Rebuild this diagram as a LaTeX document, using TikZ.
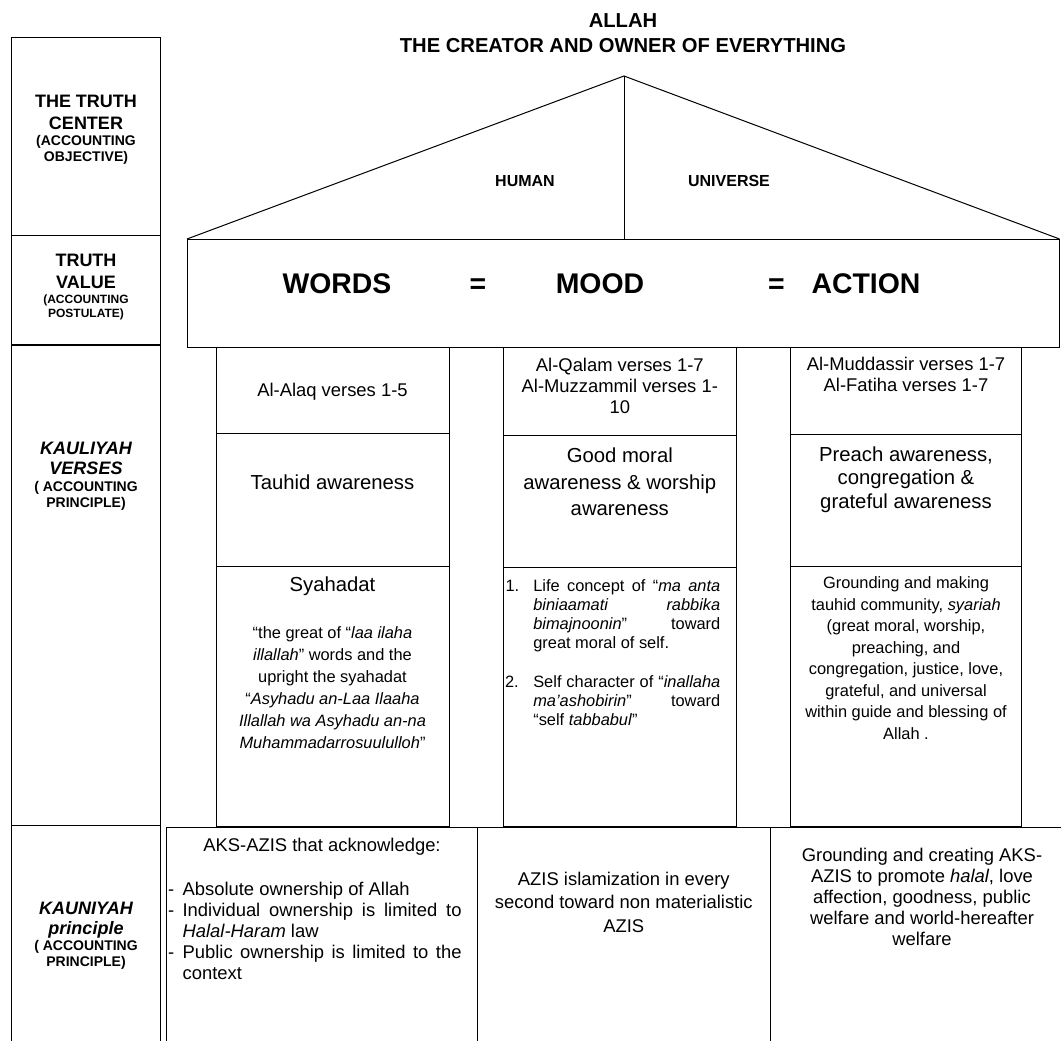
\documentclass[tikz,border=0pt]{standalone}
\usepackage{fontspec}
\setmainfont{Liberation Sans}
\newcommand{\fs}[2]{\fontsize{#1}{#2}\selectfont}
\begin{document}
\begin{tikzpicture}[x=1pt,y=-1pt,line width=1pt,
  every node/.style={inner sep=0pt,outer sep=0pt},
  hd/.style={anchor=north,align=center,font=\bfseries\fs{18}{22}},
  hdit/.style={anchor=north,align=center,font=\bfseries\itshape\fs{18}{20.5}},
  sm/.style={anchor=north,align=center,font=\bfseries\fs{14}{16}},
  big/.style={anchor=base,font=\bfseries\fs{28.4}{34}},
  verse/.style={anchor=north,align=center,font=\fs{18.4}{21.2}},
  aware/.style={anchor=north,align=center,font=\fs{20.3}{#1}},
  body/.style={anchor=north,align=center,font=\fs{16.4}{#1}},
  item/.style={anchor=north west,text width=187pt,align=justify,font=\fs{16.4}{18.9}},
  low/.style={anchor=north,align=center,font=\fs{18.4}{#1}},
  bul/.style={anchor=north west,text height=13.4pt,font=\fs{18.4}{21.1}},
  lowitem/.style={anchor=north west,text width=279pt,align=justify,font=\fs{18.4}{21.1}}]
\useasboundingbox (0,0) rectangle (1061,1041);
% title
\node[anchor=north,align=center,font=\bfseries\fs{20.2}{25}] (allah) at (623,13.5) {ALLAH\\THE CREATOR AND OWNER OF EVERYTHING};
% left column
\draw (11,1041) -- (11,38) -- (160,38) -- (160,1041);
\draw (11,235) -- (160,235);
\draw[line width=2pt] (11,344.5) -- (160,344.5);
\draw (11,825) -- (160,825);
\node[hd] (centerA) at (86,95) {THE TRUTH\\CENTER};
\node[sm] (centerB) at (86,135) {(ACCOUNTING\\OBJECTIVE)};
\node[hd] (valueA) at (86,254) {TRUTH\\VALUE};
\node[sm,font=\bfseries\fs{12}{14.3}] (valueB) at (86,295) {(ACCOUNTING\\POSTULATE)};
\node[hdit] (kauliA) at (86,441.7) {KAULIYAH\\VERSES};
\node[sm] (kauliB) at (86,481.7) {( ACCOUNTING\\PRINCIPLE)};
\node[hdit,font=\bfseries\itshape\fs{18}{20}] (kauniA) at (86,901.7) {KAUNIYAH\\principle};
\node[sm] (kauniB) at (86,940.7) {( ACCOUNTING\\PRINCIPLE)};
% roof
\coordinate (roofL) at (187,239);
\coordinate (apex) at (624,76);
\coordinate (roofR) at (1059.5,239);
\draw (roofL) -- (apex) -- (roofR);
\draw (apex) -- (apex |- roofL);
\node[font=\bfseries\fs{16}{19}] (human) at (525,181) {HUMAN};
\node[font=\bfseries\fs{16}{19}] (universe) at (729,181) {UNIVERSE};
% truth value beam
\draw (roofL) rectangle (1059.5,347);
\node[big] (words) at (337,293) {WORDS};
\node[big] (eqA) at (478,293) {=};
\node[big] (mood) at (600,293) {MOOD};
\node[big] (eqB) at (776.5,293) {=};
\node[big] (action) at (866,293) {ACTION};
% pillars
\draw (216,347) rectangle (449,826);
\draw (216,433) -- (449,433);
\draw (216,566) -- (449,566);
\draw (503.5,347) rectangle (736,826);
\draw (503.5,435) -- (736,435);
\draw (503.5,567) -- (736,567);
\draw (790,347) rectangle (1021.5,826);
\draw (790,434) -- (1021.5,434);
\draw (790,566) -- (1021.5,566);
% pillar one
\node[verse] (alaq) at (332.5,383) {Al-Alaq verses 1-5};
\node[aware=24] (tauhid) at (332.5,475) {Tauhid awareness};
\node[aware=24] (syahadat) at (332.5,577) {Syahadat};
\node[body=21.9] (quote) at (332.5,626.7) {“the great of “\textit{laa ilaha}\\\textit{illallah}” words and the\\upright the syahadat\\“\textit{Asyhadu an-Laa Ilaaha}\\\textit{Illallah wa Asyhadu an-na}\\\textit{Muhammadarrosuululloh}”};
% pillar two
\node[verse] (qalam) at (619.8,358) {Al-Qalam verses 1-7\\Al-Muzzammil verses 1-\\10};
\node[aware=26.3] (moral) at (619.8,448) {Good moral\\awareness \& worship\\awareness};
\node[anchor=north west,font=\fs{16.4}{18.9}] (numA) at (505.5,580) {1.};
\node[item] (lifeA) at (533.3,580) {Life concept of “\textit{ma anta}\linebreak \textit{biniaamati rabbika}\linebreak \textit{bimajnoonin}” toward\linebreak great moral of self.};
\node[anchor=north west,font=\fs{16.4}{18.9}] (numB) at (505,676) {2.};
\node[item] (lifeB) at (533.3,676) {Self character of “\textit{inallaha}\linebreak \textit{ma’ashobirin}” toward\linebreak “self \textit{tabbabul}”};
% pillar three
\node[verse,font=\fs{18.4}{21}] (muddassir) at (906,356.7) {Al-Muddassir verses 1-7\\Al-Fatiha verses 1-7};
\node[aware=23.3] (preach) at (906,446.7) {Preach awareness,\\congregation \&\\grateful awareness};
\node[body=21.5] (ground) at (906,576.7) {Grounding and making\\tauhid community, \textit{syariah}\\(great moral, worship,\\preaching, and\\congregation, justice, love,\\grateful, and universal\\within guide and blessing of\\Allah .};
% kauniyah row
\draw (166,1041) -- (166,827) -- (1061,827);
\draw (477.5,827) -- (477.5,1041);
\draw (770,827) -- (770,1041);
\node[low=21.1] (aks) at (322,838) {AKS-AZIS that acknowledge:};
\node[bul] (bulA) at (168,881.7) {-};
\node[lowitem] (ownA) at (182.6,881.7) {Absolute ownership of Allah};
\node[bul] (bulB) at (168,902.7) {-};
\node[lowitem] (ownB) at (182.6,902.7) {Individual ownership is limited to\linebreak \textit{Halal-Haram} law};
\node[bul] (bulC) at (168,945) {-};
\node[lowitem] (ownC) at (182.6,945) {Public ownership is limited to the\linebreak context};
\node[low=23.5] (islam) at (623.8,871.7) {AZIS islamization in every\\second toward non materialistic\\AZIS};
\node[low=21.1] (promote) at (922,848) {Grounding and creating AKS-\\AZIS to promote \textit{halal}, love\\affection, goodness, public\\welfare and world-hereafter\\welfare};
\end{tikzpicture}
\end{document}
